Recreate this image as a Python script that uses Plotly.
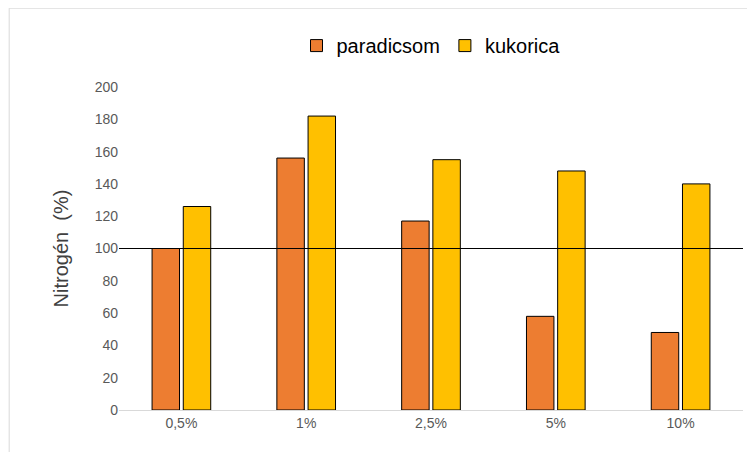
import plotly.graph_objects as go

categories = ["0,5%", "1%", "2,5%", "5%", "10%"]
paradicsom = [100, 156, 117, 58, 48]
kukorica = [126, 182, 155, 148, 140]
yticks = list(range(0, 201, 20))

fig = go.Figure()
fig.add_bar(x=categories, y=paradicsom, name="paradicsom",
            marker=dict(color="#ED7D31", line=dict(color="black", width=1)))
fig.add_bar(x=categories, y=kukorica, name="kukorica",
            marker=dict(color="#FFC000", line=dict(color="black", width=1)))
fig.update_layout(
    width=755, height=452, barmode="group", bargap=0.5, bargroupgap=0.12,
    plot_bgcolor="white", paper_bgcolor="white",
    margin=dict(l=111, r=20, t=79, b=50, autoexpand=False),
    font=dict(family="Liberation Sans, Arial", color="#595959", size=14),
    legend=dict(orientation="h", x=0.5, xanchor="center", yref="container", y=0.96, yanchor="top",
                font=dict(size=20, color="black")),
    xaxis=dict(showline=True, linecolor="#D9D9D9", ticks=""),
    yaxis=dict(range=[0, 200], tickvals=yticks, showgrid=False, zeroline=False,
               title=dict(text="Nitrogén  (%)", font=dict(size=20, color="#404040"), standoff=20)),
    shapes=[dict(type="line", xref="paper", yref="y", x0=0, x1=1, y0=100, y1=100,
                 line=dict(color="black", width=1), layer="above"),
            dict(type="rect", xref="paper", yref="paper", x0=-0.176, x1=1.031, y0=-0.155, y1=1.244,
                 line=dict(color="#D9D9D9", width=1))],
)
fig.write_html("out.html")
